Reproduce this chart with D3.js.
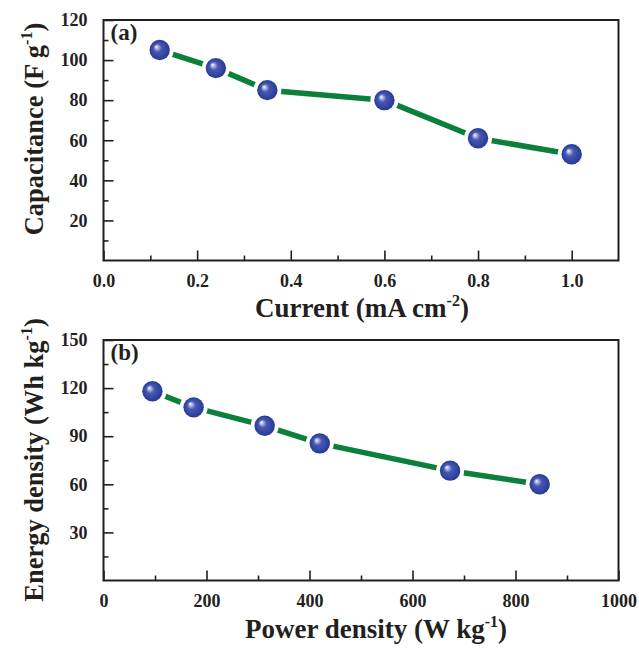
<!DOCTYPE html>
<html>
<head>
<meta charset="utf-8">
<script src="https://cdn.jsdelivr.net/npm/d3@7"></script>
<style>
  html, body { margin: 0; padding: 0; background: #fff; }
  svg { display: block; }
  svg text { font-family: "Liberation Serif", "Times New Roman", Times, "DejaVu Serif", serif !important; font-weight: bold; fill: #231f20; }
</style>
</head>
<body>
<svg id="chart" width="639" height="652"></svg>
<script>
// Panel (a): specific capacitance vs. current density
const currentValues = [0.12, 0.24, 0.35, 0.6, 0.8, 1.0];
const capacitanceValues = [105, 96, 85, 80, 61, 53];
const currentTicks = [0.0, 0.2, 0.4, 0.6, 0.8, 1.0];
const capacitanceTicks = [20, 40, 60, 80, 100, 120];

// Panel (b): Ragone plot
const powerValues = [95, 175, 313, 420, 673, 847];
const energyValues = [118, 108, 96.5, 85.5, 68.5, 60];
const powerTicks = [0, 200, 400, 600, 800, 1000];
const energyTicks = [30, 60, 90, 120, 150];

const serif = '"Liberation Serif", "Times New Roman", Times, "DejaVu Serif", serif';
const svg = d3.select("#chart");
const ink = "#231f20";
const lineColor = "#0b7f3c";

// marker shading: glossy blue sphere
const defs = svg.append("defs");
const grad = defs.append("radialGradient")
  .attr("id", "sphere").attr("cx", "50%").attr("cy", "50%").attr("r", "50%")
  .attr("fx", "33%").attr("fy", "33%");
grad.append("stop").attr("offset", "0%").attr("stop-color", "#ffffff");
grad.append("stop").attr("offset", "14%").attr("stop-color", "#b9c0e6");
grad.append("stop").attr("offset", "40%").attr("stop-color", "#4658b2");
grad.append("stop").attr("offset", "85%").attr("stop-color", "#2f419c");
grad.append("stop").attr("offset", "100%").attr("stop-color", "#27388e");

function panel(cfg) {
  const { left, right, top, bottom } = cfg.box;
  const x = d3.scaleLinear().domain(cfg.xDomain).range([left, right]);
  const y = d3.scaleLinear().domain(cfg.yDomain).range([bottom, top]);
  const g = svg.append("g");

  // bottom axis, ticks pointing inward
  const xAxis = d3.axisBottom(x).tickValues(cfg.xTicks).tickFormat(cfg.xFormat)
    .tickSizeInner(-10).tickSizeOuter(0).tickPadding(14);
  const xg = g.append("g").attr("transform", `translate(0,${bottom})`).call(xAxis);
  const xMinor = d3.axisBottom(x).tickValues(cfg.xMinor).tickFormat("").tickSizeInner(-5).tickSizeOuter(0);
  const xmg = g.append("g").attr("transform", `translate(0,${bottom})`).call(xMinor);

  const yAxis = d3.axisLeft(y).tickValues(cfg.yTicks).tickFormat(cfg.yFormat)
    .tickSizeInner(-10).tickSizeOuter(0).tickPadding(16);
  const yg = g.append("g").attr("transform", `translate(${left},0)`).call(yAxis);
  const yMinor = d3.axisLeft(y).tickValues(cfg.yMinor).tickFormat("").tickSizeInner(-5).tickSizeOuter(0);
  const ymg = g.append("g").attr("transform", `translate(${left},0)`).call(yMinor);

  [xg, xmg, yg, ymg].forEach(a => {
    a.attr("font-family", serif);
    a.select(".domain").remove();
    a.selectAll("line").attr("stroke", ink).attr("stroke-width", 1.6);
    a.selectAll("text").attr("font-size", 18).attr("fill", ink)
      .attr("font-family", serif).attr("font-weight", "bold");
  });
  xg.selectAll("text").attr("dy", "0.71em");

  // frame
  g.append("rect").attr("x", left).attr("y", top)
    .attr("width", right - left).attr("height", bottom - top)
    .attr("fill", "none").attr("stroke", ink).attr("stroke-width", 2);

  const pts = cfg.xs.map((v, i) => [x(v), y(cfg.ys[i])]);

  // connecting line
  const line = d3.line();
  g.append("path").attr("d", line(pts))
    .attr("fill", "none").attr("stroke", lineColor)
    .attr("stroke-width", 5.5).attr("stroke-linecap", "round")
    .attr("stroke-linejoin", "round");

  // gap around symbols
  g.selectAll(".halo").data(pts).join("circle")
    .attr("cx", d => d[0]).attr("cy", d => d[1]).attr("r", 14).attr("fill", "#fff");
  g.selectAll(".dot").data(pts).join("circle")
    .attr("cx", d => d[0]).attr("cy", d => d[1]).attr("r", 10.2)
    .attr("fill", "url(#sphere)");

  // panel tag
  g.append("text").attr("x", left + 7).attr("y", top + 20)
    .attr("font-family", serif).attr("font-size", 23).text(cfg.tag);

  // x title
  const xt = g.append("text").attr("x", cfg.xTitlePos[0]).attr("y", cfg.xTitlePos[1])
    .attr("font-family", serif).attr("text-anchor", "middle").attr("font-size", 27);
  xt.append("tspan").text(cfg.xTitle[0]);
  xt.append("tspan").attr("font-size", 16).attr("dy", -11).text(cfg.xTitle[1]);
  xt.append("tspan").attr("dy", 11).text(cfg.xTitle[2]);

  // y title
  const yt = g.append("text")
    .attr("transform", `translate(${cfg.yTitlePos[0]},${cfg.yTitlePos[1]}) rotate(-90)`)
    .attr("font-family", serif).attr("text-anchor", "middle").attr("font-size", 26.5);
  yt.append("tspan").text(cfg.yTitle[0]);
  yt.append("tspan").attr("font-size", 16).attr("dy", -11).text(cfg.yTitle[1]);
  yt.append("tspan").attr("dy", 11).text(cfg.yTitle[2]);
}

panel({
  box: { left: 103.5, right: 618.5, top: 20, bottom: 260.5 },
  xDomain: [0, 1.1], yDomain: [0, 120],
  xTicks: currentTicks, xMinor: [0.1, 0.3, 0.5, 0.7, 0.9],
  yTicks: capacitanceTicks, yMinor: [10, 30, 50, 70, 90, 110],
  xFormat: d3.format(".1f"), yFormat: d3.format("d"),
  xs: currentValues, ys: capacitanceValues,
  tag: "(a)",
  xTitle: ["Current (mA cm", "-2", ")"], xTitlePos: [362, 317],
  yTitle: ["Capacitance (F g", "-1", ")"], yTitlePos: [43, 129]
});

panel({
  box: { left: 103.5, right: 618.5, top: 340, bottom: 580.5 },
  xDomain: [0, 1000], yDomain: [0, 150],
  xTicks: powerTicks, xMinor: [100, 300, 500, 700, 900],
  yTicks: energyTicks, yMinor: [15, 45, 75, 105, 135],
  xFormat: d3.format("d"), yFormat: d3.format("d"),
  xs: powerValues, ys: energyValues,
  tag: "(b)",
  xTitle: ["Power density (W kg", "-1", ")"], xTitlePos: [376, 638],
  yTitle: ["Energy density (Wh kg", "-1", ")"], yTitlePos: [43, 460]
});
</script>
</body>
</html>
